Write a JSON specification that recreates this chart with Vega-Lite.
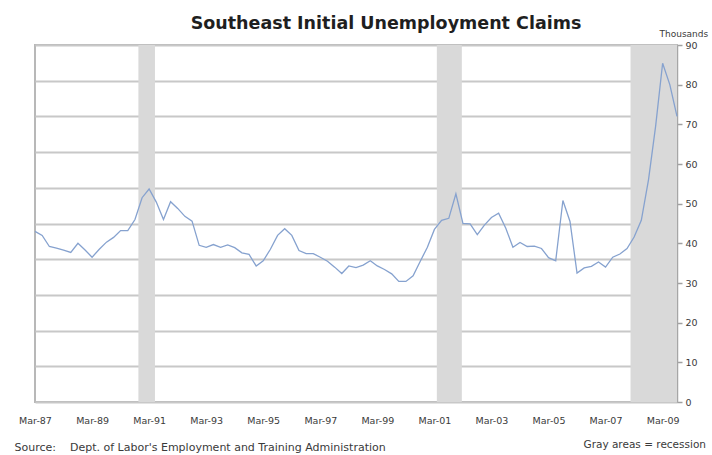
{
  "$schema": "https://vega.github.io/schema/vega-lite/v6.json",
  "width": 642,
  "height": 357,
  "autosize": {"type": "none"},
  "padding": {"left": 35, "top": 45, "right": 35, "bottom": 53},
  "background": "white",
  "title": {
    "text": "Southeast Initial Unemployment Claims",
    "font": "DejaVu Sans",
    "fontSize": 17.5,
    "fontWeight": "bold",
    "color": "#1f1f1f",
    "frame": "group",
    "anchor": "middle",
    "dx": 30,
    "dy": 15,
    "offset": 12
  },
  "config": {
    "view": {"stroke": "#b8b8b8", "strokeWidth": 2},
    "axis": {
      "labelFont": "DejaVu Sans",
      "labelFontSize": 9.5,
      "labelColor": "#3a3a3a",
      "titleFont": "DejaVu Sans",
      "titleFontWeight": "normal",
      "titleColor": "#3a3a3a"
    }
  },
  "datasets": {
    "claims": [
      {"date": "1987/03/01", "claims": 43},
      {"date": "1987/06/01", "claims": 42},
      {"date": "1987/09/01", "claims": 39.2},
      {"date": "1987/12/01", "claims": 38.8},
      {"date": "1988/03/01", "claims": 38.3},
      {"date": "1988/06/01", "claims": 37.7},
      {"date": "1988/09/01", "claims": 40},
      {"date": "1988/12/01", "claims": 38.3},
      {"date": "1989/03/01", "claims": 36.5},
      {"date": "1989/06/01", "claims": 38.5},
      {"date": "1989/09/01", "claims": 40.3},
      {"date": "1989/12/01", "claims": 41.5},
      {"date": "1990/03/01", "claims": 43.2},
      {"date": "1990/06/01", "claims": 43.2},
      {"date": "1990/09/01", "claims": 46},
      {"date": "1990/12/01", "claims": 51.5},
      {"date": "1991/03/01", "claims": 53.7},
      {"date": "1991/06/01", "claims": 50.4},
      {"date": "1991/09/01", "claims": 46},
      {"date": "1991/12/01", "claims": 50.5},
      {"date": "1992/03/01", "claims": 48.8},
      {"date": "1992/06/01", "claims": 46.8},
      {"date": "1992/09/01", "claims": 45.6},
      {"date": "1992/12/01", "claims": 39.5},
      {"date": "1993/03/01", "claims": 39},
      {"date": "1993/06/01", "claims": 39.7},
      {"date": "1993/09/01", "claims": 39},
      {"date": "1993/12/01", "claims": 39.6},
      {"date": "1994/03/01", "claims": 38.9},
      {"date": "1994/06/01", "claims": 37.6},
      {"date": "1994/09/01", "claims": 37.2},
      {"date": "1994/12/01", "claims": 34.3},
      {"date": "1995/03/01", "claims": 35.6},
      {"date": "1995/06/01", "claims": 38.5},
      {"date": "1995/09/01", "claims": 42},
      {"date": "1995/12/01", "claims": 43.7},
      {"date": "1996/03/01", "claims": 42},
      {"date": "1996/06/01", "claims": 38.2},
      {"date": "1996/09/01", "claims": 37.4},
      {"date": "1996/12/01", "claims": 37.4},
      {"date": "1997/03/01", "claims": 36.5},
      {"date": "1997/06/01", "claims": 35.5},
      {"date": "1997/09/01", "claims": 34},
      {"date": "1997/12/01", "claims": 32.4},
      {"date": "1998/03/01", "claims": 34.3},
      {"date": "1998/06/01", "claims": 33.9},
      {"date": "1998/09/01", "claims": 34.5},
      {"date": "1998/12/01", "claims": 35.6},
      {"date": "1999/03/01", "claims": 34.3},
      {"date": "1999/06/01", "claims": 33.4},
      {"date": "1999/09/01", "claims": 32.3},
      {"date": "1999/12/01", "claims": 30.4},
      {"date": "2000/03/01", "claims": 30.4},
      {"date": "2000/06/01", "claims": 31.8},
      {"date": "2000/09/01", "claims": 35.5},
      {"date": "2000/12/01", "claims": 39},
      {"date": "2001/03/01", "claims": 43.5},
      {"date": "2001/06/01", "claims": 45.8},
      {"date": "2001/09/01", "claims": 46.3},
      {"date": "2001/12/01", "claims": 52.5},
      {"date": "2002/03/01", "claims": 45},
      {"date": "2002/06/01", "claims": 44.9},
      {"date": "2002/09/01", "claims": 42.2},
      {"date": "2002/12/01", "claims": 44.6},
      {"date": "2003/03/01", "claims": 46.5},
      {"date": "2003/06/01", "claims": 47.6},
      {"date": "2003/09/01", "claims": 43.8},
      {"date": "2003/12/01", "claims": 39},
      {"date": "2004/03/01", "claims": 40.2},
      {"date": "2004/06/01", "claims": 39.2},
      {"date": "2004/09/01", "claims": 39.3},
      {"date": "2004/12/01", "claims": 38.7},
      {"date": "2005/03/01", "claims": 36.4},
      {"date": "2005/06/01", "claims": 35.6},
      {"date": "2005/09/01", "claims": 50.8},
      {"date": "2005/12/01", "claims": 45.5},
      {"date": "2006/03/01", "claims": 32.5},
      {"date": "2006/06/01", "claims": 33.8},
      {"date": "2006/09/01", "claims": 34.2},
      {"date": "2006/12/01", "claims": 35.3},
      {"date": "2007/03/01", "claims": 34},
      {"date": "2007/06/01", "claims": 36.5},
      {"date": "2007/09/01", "claims": 37.3},
      {"date": "2007/12/01", "claims": 38.7},
      {"date": "2008/03/01", "claims": 41.6},
      {"date": "2008/06/01", "claims": 45.8},
      {"date": "2008/09/01", "claims": 56},
      {"date": "2008/12/01", "claims": 69.5},
      {"date": "2009/03/01", "claims": 85.4},
      {"date": "2009/06/01", "claims": 80},
      {"date": "2009/09/01", "claims": 72}
    ],
    "recessions": [
      {"start": "1990/10/15", "end": "1991/05/15"},
      {"start": "2001/04/01", "end": "2002/02/15"},
      {"start": "2008/01/15", "end": "2009/09/01"}
    ]
  },
  "layer": [
    {
      "data": {"name": "recessions"},
      "mark": {"type": "rect"},
      "encoding": {
        "x": {
          "field": "start",
          "type": "temporal",
          "scale": {"domain": [{"year": 1987, "month": 3, "date": 1}, {"year": 2009, "month": 9, "date": 1}]},
          "axis": {
            "values": [
              {"year": 1987, "month": 3, "date": 1}, {"year": 1989, "month": 3, "date": 1},
              {"year": 1991, "month": 3, "date": 1}, {"year": 1993, "month": 3, "date": 1},
              {"year": 1995, "month": 3, "date": 1}, {"year": 1997, "month": 3, "date": 1},
              {"year": 1999, "month": 3, "date": 1}, {"year": 2001, "month": 3, "date": 1},
              {"year": 2003, "month": 3, "date": 1}, {"year": 2005, "month": 3, "date": 1},
              {"year": 2007, "month": 3, "date": 1}, {"year": 2009, "month": 3, "date": 1}
            ],
            "format": "%b-%y",
            "grid": false,
            "ticks": false,
            "domain": false,
            "labelPadding": 13,
            "labelFlush": false,
            "labelOverlap": false,
            "title": "Source:\u00a0\u00a0\u00a0\u00a0Dept. of Labor's Employment and Training Administration",
            "titleFontSize": 11,
            "titleAlign": "left",
            "titleAnchor": "start",
            "titleBaseline": "middle",
            "titleX": -21,
            "titleY": 45
          }
        },
        "x2": {"field": "end"},
        "y": {
          "datum": 90,
          "type": "quantitative",
          "axis": {
            "orient": "left",
            "values": [0, 9, 18, 27, 36, 45, 54, 63, 72, 81, 90],
            "grid": true,
            "gridColor": "#c8c8c8",
            "gridWidth": 2,
            "labels": false,
            "ticks": false,
            "domain": false,
            "title": null
          }
        },
        "y2": {"datum": 0},
        "color": {
          "datum": "Gray areas = recession",
          "scale": {"range": ["#d9d9d9"]},
          "legend": {
            "orient": "none",
            "legendX": 538,
            "legendY": 395,
            "title": null,
            "padding": 0,
            "symbolOpacity": 0,
            "symbolSize": 0,
            "symbolStrokeWidth": 0,
            "labelOffset": 0,
            "labelFont": "DejaVu Sans",
            "labelFontSize": 10.5,
            "labelColor": "#3a3a3a"
          }
        }
      }
    },
    {
      "data": {"name": "claims"},
      "mark": {"type": "line", "color": "#86a2cf", "strokeWidth": 1.3},
      "encoding": {
        "x": {
          "field": "date",
          "type": "temporal",
          "scale": {"domain": [{"year": 1987, "month": 3, "date": 1}, {"year": 2009, "month": 9, "date": 1}]},
          "axis": {
            "values": [
              {"year": 1987, "month": 3, "date": 1}, {"year": 1989, "month": 3, "date": 1},
              {"year": 1991, "month": 3, "date": 1}, {"year": 1993, "month": 3, "date": 1},
              {"year": 1995, "month": 3, "date": 1}, {"year": 1997, "month": 3, "date": 1},
              {"year": 1999, "month": 3, "date": 1}, {"year": 2001, "month": 3, "date": 1},
              {"year": 2003, "month": 3, "date": 1}, {"year": 2005, "month": 3, "date": 1},
              {"year": 2007, "month": 3, "date": 1}, {"year": 2009, "month": 3, "date": 1}
            ],
            "format": "%b-%y",
            "grid": false,
            "ticks": false,
            "domain": false,
            "labelPadding": 13,
            "labelFlush": false,
            "labelOverlap": false,
            "title": "Source:\u00a0\u00a0\u00a0\u00a0Dept. of Labor's Employment and Training Administration",
            "titleFontSize": 11,
            "titleAlign": "left",
            "titleAnchor": "start",
            "titleBaseline": "middle",
            "titleX": -21,
            "titleY": 45
          }
        },
        "y": {
          "field": "claims",
          "type": "quantitative",
          "scale": {"domain": [0, 90], "nice": false, "zero": true},
          "axis": {
            "orient": "right",
            "values": [0, 10, 20, 30, 40, 50, 60, 70, 80, 90],
            "grid": false,
            "ticks": true,
            "tickSize": 5,
            "tickColor": "#a0a0a0",
            "tickWidth": 1.5,
            "domain": true,
            "domainColor": "#a6a6a6",
            "domainWidth": 1.5,
            "labelPadding": 3,
            "title": "Thousands",
            "titleAngle": 0,
            "titleAlign": "left",
            "titleBaseline": "alphabetic",
            "titleFontSize": 9,
            "titleX": -18,
            "titleY": -9
          }
        }
      }
    }
  ],
  "resolve": {"axis": {"y": "independent"}}
}
